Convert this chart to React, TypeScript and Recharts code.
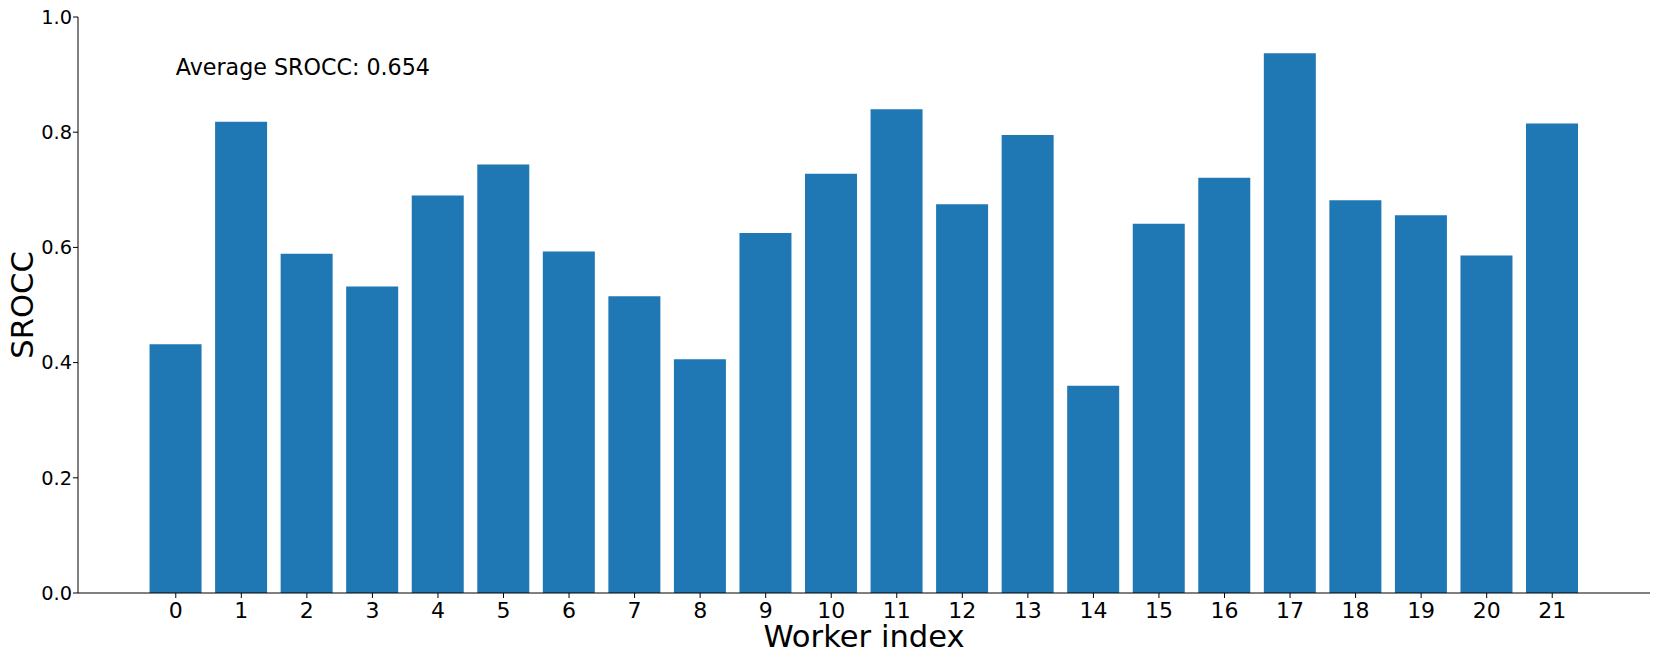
import { BarChart, Bar, XAxis, YAxis, ReferenceDot } from 'recharts'

const workers = ['0', '1', '2', '3', '4', '5', '6', '7', '8', '9', '10', '11', '12', '13', '14', '15', '16', '17', '18', '19', '20', '21']
const sroccValues = [0.432, 0.818, 0.589, 0.532, 0.690, 0.744, 0.593, 0.515, 0.406, 0.625, 0.728, 0.840, 0.675, 0.795, 0.360, 0.641, 0.721, 0.937, 0.682, 0.656, 0.586, 0.815]
const yTicks = [0, 0.2, 0.4, 0.6, 0.8, 1.0]
const averageText = 'Average SROCC: 0.654'

const FONT = 'DejaVu Sans, sans-serif'

export default function App() {
  const chartData = workers.map((w, i) => ({ worker: w, srocc: sroccValues[i] }))

  const XLabel = (props: any) => {
    const vb = props.viewBox
    return (
      <text x={vb.x + vb.width / 2} y={647} textAnchor="middle" fontSize={30.6} fontFamily={FONT} fill="#000">
        Worker index
      </text>
    )
  }

  const YLabel = (props: any) => {
    const vb = props.viewBox
    const cy = vb.y + vb.height / 2
    return (
      <text x={33} y={cy} transform={`rotate(-90, 33, ${cy})`} textAnchor="middle" fontSize={30.6} fontFamily={FONT} fill="#000">
        SROCC
      </text>
    )
  }

  const AvgLabel = (props: any) => {
    const vb = props.viewBox
    return (
      <text x={vb.x} y={vb.y} textAnchor="start" fontSize={22.2} fontFamily={FONT} fill="#000">
        {averageText}
      </text>
    )
  }

  return (
    <div style={{ position: 'absolute', left: 0, top: 0, background: '#fff' }}>
      <BarChart
        width={1661}
        height={664}
        data={chartData}
        margin={{ top: 17, right: 11, left: 0, bottom: 0 }}
        barCategoryGap="10%"
      >
        <XAxis
          dataKey="worker"
          height={71}
          padding={{ left: 65, right: 65 }}
          interval={0}
          stroke="#000"
          tickSize={5}
          tickMargin={4}
          tick={{ fill: '#000', fontSize: 22, fontFamily: FONT }}
          tickLine={{ stroke: '#000' }}
          label={<XLabel />}
        />
        <XAxis xAxisId="top" dataKey="worker" orientation="top" height={0} tick={false} tickLine={false} stroke="#000" />
        <YAxis
          width={78}
          domain={[0, 1]}
          ticks={yTicks}
          tickFormatter={(v: number) => v.toFixed(1)}
          stroke="#000"
          tickSize={5}
          tickMargin={1}
          tick={{ fill: '#000', fontSize: 19.4, fontFamily: FONT }}
          tickLine={{ stroke: '#000' }}
          label={<YLabel />}
        />
        <YAxis yAxisId="right" orientation="right" width={0} tick={false} tickLine={false} stroke="#000" domain={[0, 1]} />
        <Bar dataKey="srocc" fill="#1f77b4" isAnimationActive={false} />
        <ReferenceDot x="0" y={0.9} r={0} fill="none" stroke="none" label={<AvgLabel />} />
      </BarChart>
    </div>
  )
}
